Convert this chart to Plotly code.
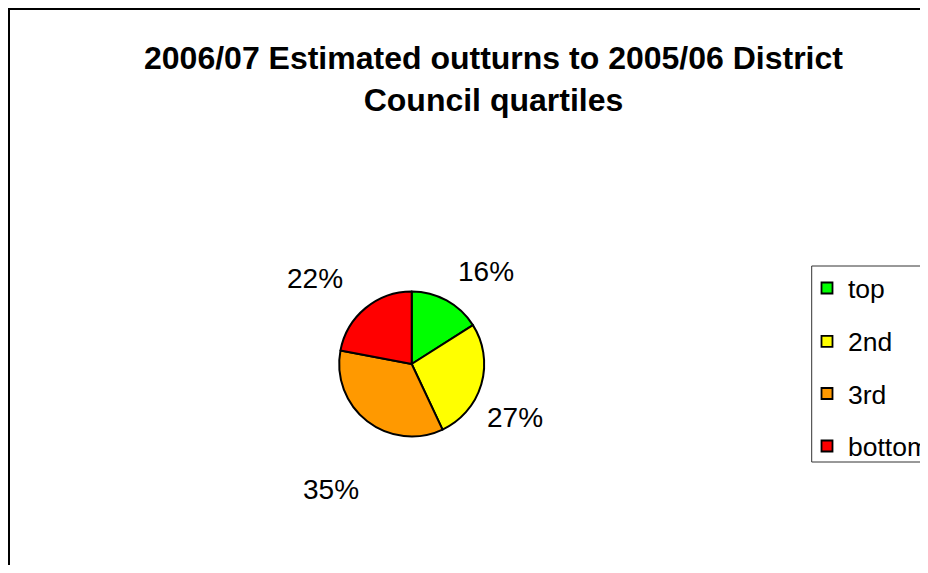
import plotly.graph_objects as go

# ---- data ----
categories = ["top", "2nd", "3rd", "bottom"]
values = [16, 27, 35, 22]
colors = ["#00FF00", "#FFFF00", "#FF9900", "#FF0000"]
title_lines = ["2006/07 Estimated outturns to 2005/06 District", "Council quartiles"]

# ---- layout helpers (window pixel -> paper); page body adds an 8px offset ----
W, H = 920, 557
OFF = 8
def px(x):
    return (x - OFF) / W
def py(y):
    return 1 - (y - OFF) / H

FONT = "Liberation Sans, Arial, sans-serif"

# pie geometry (window pixels)
cx, cy, r = 411.7, 364.0, 72.5

fig = go.Figure()
fig.add_trace(go.Pie(
    labels=categories,
    values=values,
    sort=False,
    direction="clockwise",
    rotation=0,
    marker=dict(colors=colors, line=dict(color="black", width=2)),
    textinfo="none",
    hoverinfo="label+percent",
    showlegend=False,
    domain=dict(x=[px(cx - r), px(cx + r)], y=[py(cy + r), py(cy - r)]),
))

# percentage labels (text from data; placement is layout)
label_pos = [(486, 271), (515, 417), (331, 490), (315, 278)]
total = sum(values)
annotations = []
for v, (lx, ly) in zip(values, label_pos):
    annotations.append(dict(
        x=px(lx), y=py(ly), xref="paper", yref="paper",
        text=f"{round(100 * v / total)}%", showarrow=False,
        xanchor="center", yanchor="middle",
        font=dict(family=FONT, size=28, color="black"),
    ))

# title
annotations.append(dict(
    x=px(494), y=py(78.5), xref="paper", yref="paper",
    text="<b>" + "<br>".join(title_lines) + "</b>", showarrow=False,
    xanchor="center", yanchor="middle", align="center",
    font=dict(family=FONT, size=32, color="black"),
))

shapes = []
# outer chart frame
shapes.append(dict(type="rect", xref="paper", yref="paper",
                   x0=px(9), x1=px(980), y0=py(9), y1=py(640),
                   line=dict(color="black", width=2), fillcolor="rgba(0,0,0,0)"))
# legend box
shapes.append(dict(type="rect", xref="paper", yref="paper",
                   x0=px(811.7), x1=px(980), y0=py(266), y1=py(462),
                   line=dict(color="#333333", width=1), fillcolor="white", layer="below"))
# legend items
item_y = [288, 341.3, 393.5, 446]
for cat, col, iy in zip(categories, colors, item_y):
    shapes.append(dict(type="rect", xref="paper", yref="paper",
                       x0=px(821.5), x1=px(832.5), y0=py(iy + 5.5), y1=py(iy - 5.5),
                       line=dict(color="black", width=1.8), fillcolor=col))
    annotations.append(dict(
        x=px(846), y=py(iy + 1), xref="paper", yref="paper",
        text=cat, showarrow=False, xanchor="left", yanchor="middle",
        font=dict(family=FONT, size=26.5, color="black"),
    ))

fig.update_layout(
    width=W, height=H,
    margin=dict(l=0, r=0, t=0, b=0),
    paper_bgcolor="white",
    plot_bgcolor="white",
    showlegend=False,
    annotations=annotations,
    shapes=shapes,
)

fig.write_html("out.html")
